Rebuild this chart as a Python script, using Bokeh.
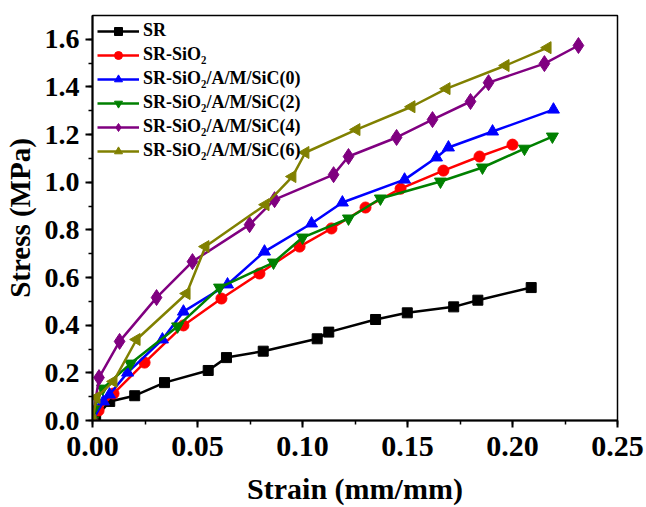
import math
from bokeh.plotting import figure
from bokeh.models import Range1d, SingleIntervalTicker, NumeralTickFormatter
from bokeh.embed import file_html
from bokeh.resources import INLINE

# Stress-strain data for each sample
sr_x = [0, 0.0015, 0.0082, 0.0201, 0.0343, 0.0551, 0.0638, 0.0813, 0.107, 0.1125, 0.1348, 0.1499, 0.172, 0.1835, 0.2089]
sr_y = [0, 0.012, 0.080, 0.104, 0.159, 0.210, 0.264, 0.291, 0.343, 0.371, 0.424, 0.452, 0.477, 0.505, 0.558]

sio2_x = [0, 0.0029, 0.0100, 0.0248, 0.0433, 0.0614, 0.0795, 0.0986, 0.1138, 0.1300, 0.1467, 0.1671, 0.1843, 0.2000]
sio2_y = [0, 0.042, 0.113, 0.243, 0.399, 0.512, 0.617, 0.730, 0.806, 0.894, 0.973, 1.049, 1.108, 1.158]

c0_x = [0, 0.0052, 0.0081, 0.0167, 0.0333, 0.0433, 0.0643, 0.0819, 0.1043, 0.1190, 0.1486, 0.1638, 0.1695, 0.1905, 0.2195]
c0_y = [0, 0.080, 0.109, 0.201, 0.340, 0.457, 0.571, 0.709, 0.827, 0.915, 1.011, 1.104, 1.146, 1.213, 1.305]

c2_x = [0, 0.0005, 0.0048, 0.0181, 0.0405, 0.0605, 0.0862, 0.1000, 0.1219, 0.1371, 0.1657, 0.1857, 0.2057, 0.2190]
c2_y = [0, 0.046, 0.134, 0.239, 0.395, 0.558, 0.663, 0.768, 0.848, 0.932, 1.003, 1.062, 1.141, 1.192]

c4_x = [0, 0.0031, 0.0129, 0.0305, 0.0476, 0.0748, 0.0867, 0.1148, 0.1219, 0.1448, 0.1619, 0.1800, 0.1886, 0.2152, 0.2314]
c4_y = [0, 0.180, 0.332, 0.516, 0.667, 0.822, 0.927, 1.032, 1.108, 1.188, 1.263, 1.339, 1.418, 1.498, 1.574]

c6_x = [0, 0.0019, 0.0100, 0.0210, 0.0448, 0.0538, 0.0824, 0.0952, 0.1014, 0.1257, 0.1519, 0.1686, 0.1967, 0.2167]
c6_y = [0, 0.097, 0.164, 0.340, 0.533, 0.730, 0.906, 1.024, 1.125, 1.221, 1.317, 1.393, 1.490, 1.565]

labels = [
    "SR",
    "SR-SiO\u2082",
    "SR-SiO\u2082/A/M/SiC(0)",
    "SR-SiO\u2082/A/M/SiC(2)",
    "SR-SiO\u2082/A/M/SiC(4)",
    "SR-SiO\u2082/A/M/SiC(6)",
]

x_title = "Strain (mm/mm)"
y_title = "Stress (MPa)"

FONT = "Times New Roman"

p = figure(
    width=646, height=507,
    output_backend="svg", toolbar_location=None,
    x_range=Range1d(0, 0.25), y_range=Range1d(0, 1.7),
    min_border_left=92, min_border_right=29,
    min_border_top=15, min_border_bottom=86,
    background_fill_color="white", border_fill_color="white",
)
p.grid.visible = False
p.outline_line_color = "black"
p.outline_line_width = 1.5

series = [
    (sr_x, sr_y, "black", "square", 0.0, 10),
    (sio2_x, sio2_y, "red", "circle", 0.0, 11),
    (c0_x, c0_y, "blue", "triangle", 0.0, 12),
    (c2_x, c2_y, "green", "inverted_triangle", 0.0, 12),
    (c4_x, c4_y, "purple", "diamond", 0.0, 16),
    (c6_x, c6_y, "olive", "triangle", math.pi / 2, 12),
]

for (xs, ys, color, marker, ang, size), lab in zip(series, labels):
    p.line(xs, ys, line_color=color, line_width=2.5, legend_label=lab)
    p.scatter(xs, ys, marker=marker, size=size, angle=ang,
              fill_color=color, line_color=color, legend_label=lab)

# Axes
p.xaxis.ticker = SingleIntervalTicker(interval=0.05, num_minor_ticks=2)
p.yaxis.ticker = SingleIntervalTicker(interval=0.2, num_minor_ticks=2)
p.xaxis.formatter = NumeralTickFormatter(format="0.00")
p.yaxis.formatter = NumeralTickFormatter(format="0.0")
for ax in (p.xaxis, p.yaxis):
    ax.axis_line_width = 2
    ax.axis_line_color = "black"
    ax.major_tick_line_width = 2
    ax.minor_tick_line_width = 1.5
    ax.major_tick_out = 7
    ax.major_tick_in = 0
    ax.minor_tick_out = 4
    ax.minor_tick_in = 0
    ax.major_label_text_font = FONT
    ax.major_label_text_font_style = "bold"
    ax.major_label_text_color = "black"
    ax.axis_label_text_font = FONT
    ax.axis_label_text_font_style = "bold"
    ax.axis_label_text_color = "black"

p.xaxis.major_label_text_font_size = "30px"
p.yaxis.major_label_text_font_size = "28px"
p.xaxis.major_label_standoff = 9
p.xaxis.axis_label = x_title
p.xaxis.axis_label_text_font_size = "30px"
p.xaxis.axis_label_standoff = 13

p.yaxis.axis_label = y_title
p.yaxis.axis_label_text_font_size = "29px"
p.yaxis.major_label_standoff = 6
p.yaxis.axis_label_standoff = 6

# Legend
lg = p.legend[0]
lg.location = "top_left"
lg.background_fill_alpha = 0
lg.border_line_alpha = 0
lg.label_text_font = FONT
lg.label_text_font_style = "bold"
lg.label_text_font_size = "18px"
lg.label_text_color = "black"
lg.glyph_width = 42
lg.glyph_height = 20
lg.spacing = 3
lg.padding = 2
lg.margin = 3
lg.label_standoff = 4

open("out.html", "w").write(file_html(p, INLINE))
